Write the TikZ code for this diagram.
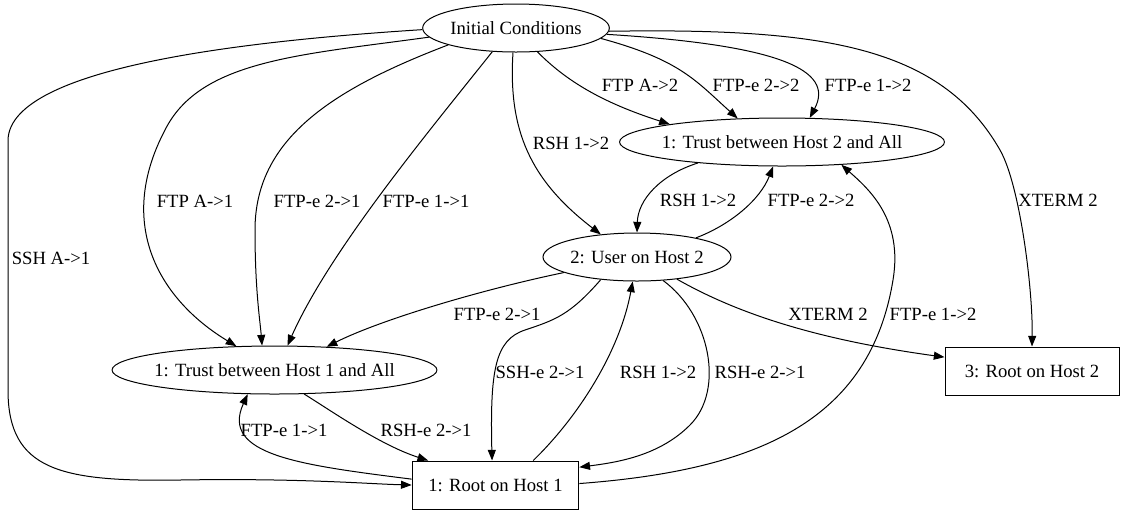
\documentclass[tikz,border=0pt]{standalone}
\usepackage{fontspec}
\setmainfont{Liberation Serif}
\usetikzlibrary{arrows.meta,shapes.geometric}
\begin{document}
\begin{tikzpicture}[x=0.75pt,y=-0.75pt,>={Triangle[length=8pt,width=6pt]},line width=0.75pt,
font=\fontsize{14}{17}\selectfont,
state/.style={draw,ellipse,inner xsep=-4pt,inner ysep=0pt,minimum height=36pt},
root/.style={draw,rectangle,minimum height=36pt},
lbl/.style={inner sep=0pt}]
\useasboundingbox (0,0) rectangle (1121,512);
\node[state,minimum width=140pt] (ic) at (516,28) {Initial Conditions};
\node[state,minimum width=236pt] (t2) at (782,142) {1: Trust between Host 2 and All};
\node[state,minimum width=141pt] (u2) at (637,257) {2: User on Host 2};
\node[state,minimum width=236pt] (t1) at (274.5,370) {1: Trust between Host 1 and All};
\node[root,minimum width=125pt] (r1) at (495.5,485) {1: Root on Host 1};
\node[root,minimum width=130.5pt] (r2) at (1032,371) {3: Root on Host 2};
\draw[->] (ic.181) .. controls (260,40) and (10,65) .. (8,140) -- (8,390) .. controls (8,470) and (60,482) .. (180,480) .. controls (300,478) and (370,484) .. (r1.west) node[lbl] at (51,258) {SSH A->1};
\draw[->] (ic.186) .. controls (300,55) and (200,60) .. (165,130) .. controls (115,225) and (160,300) .. (t1.148) node[lbl] at (195,201) {FTP A->1};
\draw[->] (ic.194) .. controls (330,90) and (255,140) .. (255,230) .. controls (255,290) and (260,320) .. (t1.117) node[lbl] at (317,201) {FTP-e 2->1};
\draw[->] (ic.225) .. controls (430,130) and (330,250) .. (t1.62) node[lbl] at (426,201) {FTP-e 1->1};
\draw[->] (ic.263) .. controls (508,130) and (530,180) .. (u2.148) node[lbl] at (571,143) {RSH 1->2};
\draw[->] (ic.-48) .. controls (570,85) and (610,105) .. (t2.171) node[lbl] at (640,85) {FTP A->2};
\draw[->] (ic.-7) .. controls (680,60) and (695,80) .. (t2.152) node[lbl] at (756,85) {FTP-e 2->2};
\draw[->] (ic.-4) .. controls (780,45) and (835,70) .. (t2.41) node[lbl] at (868,85) {FTP-e 1->2};
\draw[->] (ic.-2) .. controls (820,28) and (940,45) .. (1000,150) .. controls (1020,185) and (1033,290) .. (r2.north) node[lbl] at (1058,200) {XTERM 2};
\draw[->] (t2.194) .. controls (660,175) and (638,200) .. (u2.north) node[lbl] at (698,200) {RSH 1->2};
\draw[->] (u2.18) .. controls (730,225) and (760,200) .. (t2.250) node[lbl] at (811,200) {FTP-e 2->2};
\draw[->] (r1.1) .. controls (760,470) and (870,420) .. (893,280) .. controls (903,220) and (870,190) .. (t2.-21) node[lbl] at (933,314) {FTP-e 1->2};
\draw[->] (u2.192) .. controls (480,290) and (380,320) .. (t1.24) node[lbl] at (497,314) {FTP-e 2->1};
\draw[->] (u2.212) .. controls (570,315) and (555,320) .. (525,330) .. controls (495,340) and (490,370) .. (r1.98) node[lbl] at (540,372) {SSH-e 2->1};
\draw[->] (r1.33) .. controls (580,415) and (620,350) .. (u2.260) node[lbl] at (658,372) {RSH 1->2};
\draw[->] (u2.-42) .. controls (710,315) and (725,390) .. (690,425) .. controls (660,455) and (620,462) .. (r1.12) node[lbl] at (760,372) {RSH-e 2->1};
\draw[->] (u2.-29) .. controls (740,315) and (820,340) .. (r2.171) node[lbl] at (828,314) {XTERM 2};
\draw[->] (t1.-39) .. controls (330,410) and (380,445) .. (r1.160) node[lbl] at (426,430) {RSH-e 2->1};
\draw[->] (r1.176) .. controls (300,465) and (220,455) .. (t1.222) node[lbl] at (284,430) {FTP-e 1->1};
\end{tikzpicture}
\end{document}
